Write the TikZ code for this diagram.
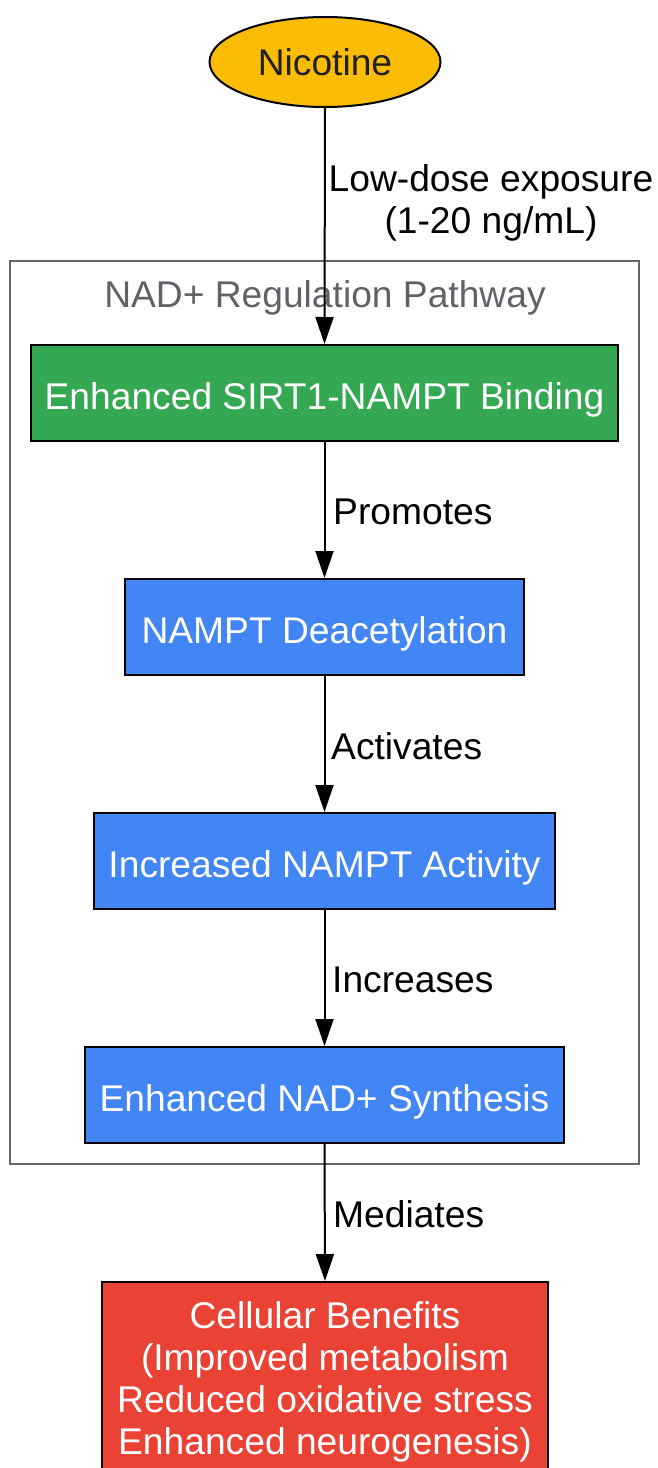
\documentclass[tikz,border=0pt]{standalone}
\usepackage{fontspec}
\setmainfont{Liberation Sans}
\usetikzlibrary{arrows.meta,shapes.geometric}
\definecolor{gyellow}{HTML}{FBBC05}
\definecolor{ggreen}{HTML}{34A853}
\definecolor{gblue}{HTML}{4285F4}
\definecolor{gred}{HTML}{EA4335}
\definecolor{gdark}{HTML}{202124}
\definecolor{ggray}{HTML}{5F6368}
\definecolor{cgray}{HTML}{666666}
\begin{document}
\begin{tikzpicture}[x=1pt,y=-1pt,
  every node/.style={font=\fontsize{37.2pt}{42pt}\selectfont, inner sep=0pt},
  procbox/.style={draw=black, line width=2pt, rectangle, text=white, align=center, text height=33pt, text depth=0pt},
  conn/.style={line width=2pt, -{Triangle[length=27pt,width=18pt]}},
  elabel/.style={anchor=west, text=black}]
\useasboundingbox (0,0) rectangle (658,1468);
\clip (0,0) rectangle (658,1468);
% cluster
\draw[cgray, line width=2pt] (10,261) rectangle (639,1164);
\node[text=ggray] (clab) at (325,298) {NAD+ Regulation Pathway};
% nodes
\node[ellipse, draw=black, line width=2pt, fill=gyellow, minimum width=231pt, minimum height=90pt, text=gdark] (nic) at (325,62) {Nicotine};
\node[procbox, fill=ggreen, minimum width=587pt, minimum height=96pt] (b1) at (324.5,393) {Enhanced SIRT1-NAMPT Binding};
\node[procbox, fill=gblue, minimum width=399pt, minimum height=96pt] (b2) at (324.5,627) {NAMPT Deacetylation};
\node[procbox, fill=gblue, minimum width=461pt, minimum height=96pt] (b3) at (324.5,861) {Increased NAMPT Activity};
\node[procbox, fill=gblue, minimum width=479pt, minimum height=96pt] (b4) at (324.5,1095) {Enhanced NAD+ Synthesis};
\node[procbox, fill=gred, minimum width=446pt, minimum height=190pt, anchor=north] (b5) at (325,1281) {};
\node[text=white, align=center] (b5t) at (325,1382) {Cellular Benefits\\(Improved metabolism\\Reduced oxidative stress\\Enhanced neurogenesis)};
% edges
\draw[conn] (nic.south) -- (b1.north);
\draw[conn] (b1.south) -- (b2.north);
\draw[conn] (b2.south) -- (b3.north);
\draw[conn] (b3.south) -- (b4.north);
\draw[conn] (b4.south) -- (b5.north);
% labels
\node[align=center, text=black] (l0) at (491,203) {Low-dose exposure\\(1-20 ng/mL)};
\node[elabel] (l1) at (333,512) {Promotes};
\node[elabel] (l2) at (331,746) {Activates};
\node[elabel] (l3) at (332,980) {Increases};
\node[elabel] (l4) at (333,1214) {Mediates};
\end{tikzpicture}
\end{document}
